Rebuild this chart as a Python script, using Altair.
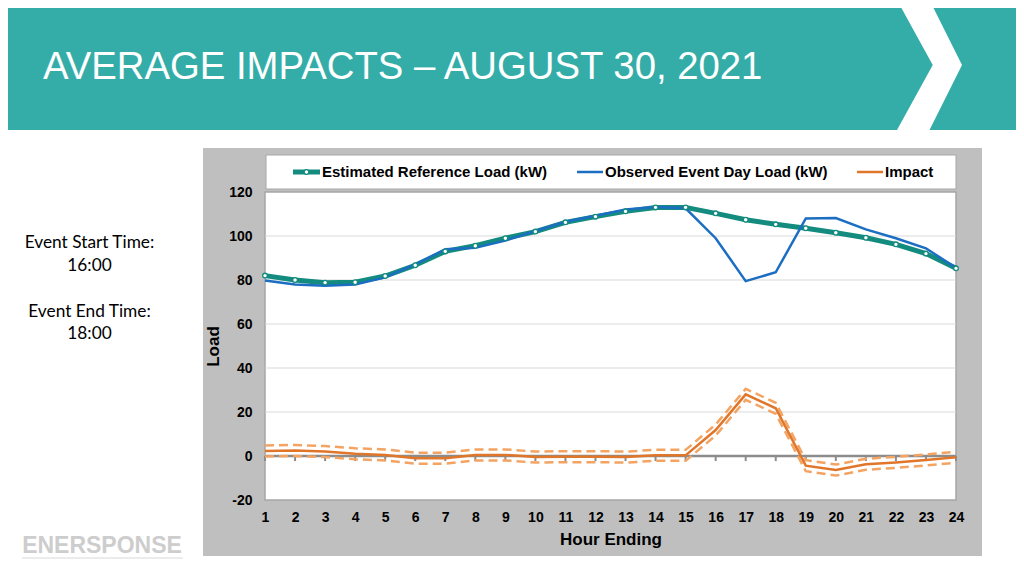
import altair as alt
import pandas as pd

# ---------------- data ----------------
hours = list(range(1, 25))
estimated = [82.0, 80.0, 78.8, 79.0, 81.8, 86.7, 93.0, 95.6, 99.0, 102.0, 106.2, 108.8,
             111.2, 113.0, 113.0, 110.3, 107.4, 105.3, 103.5, 101.5, 99.2, 96.2, 92.0, 85.3]
observed = [79.8, 78.0, 77.4, 78.0, 81.2, 87.1, 94.0, 94.7, 97.9, 102.3, 106.5, 109.2,
            112.0, 113.2, 112.6, 99.0, 79.5, 83.5, 108.0, 108.2, 103.0, 99.0, 94.4, 85.5]
impact = [2.3, 2.5, 2.0, 1.0, 0.5, -1.0, -1.0, 0.5, 0.5, -0.5, -0.3, -0.3,
          -0.5, 0.3, 0.3, 11.8, 28.0, 21.7, -4.4, -6.4, -3.8, -2.9, -1.8, -0.6]
impact_upper = [4.8, 5.0, 4.5, 3.5, 3.0, 1.5, 1.5, 3.0, 3.0, 2.0, 2.2, 2.2,
                2.0, 2.8, 2.8, 14.3, 30.5, 24.2, -1.9, -3.9, -1.3, -0.4, 0.7, 1.9]
impact_lower = [-0.2, 0.0, -0.5, -1.5, -2.0, -3.5, -3.5, -2.0, -2.0, -3.0, -2.8, -2.8,
                -3.0, -2.2, -2.2, 9.3, 25.5, 19.2, -6.9, -8.9, -6.3, -5.4, -4.3, -3.1]
y_ticks = [-20, 0, 20, 40, 60, 80, 100, 120]
grid_values = [20, 40, 60, 80, 100]

series_names = ["Estimated Reference Load (kW)", "Observed Event Day Load (kW)", "Impact"]
title_text = "AVERAGE IMPACTS \u2013 AUGUST 30, 2021"
side_texts = ["Event Start Time:", "16:00", "Event End Time:", "18:00"]

df = pd.DataFrame({"hour": hours, "est": estimated, "obs": observed, "imp": impact,
                   "up": impact_upper, "lo": impact_lower})
grid_df = pd.DataFrame({"g": grid_values})
one = pd.DataFrame({"a": [0]})

# ---------------- styles ----------------
TEAL_HEADER = "#34ADA9"
TEAL = "#138B7E"
BLUE = "#1B6EC2"
ORANGE = "#E0762A"
ORANGE_LIGHT = "#F4A462"
GREY_BOX = "#BFBFBF"
FONT = "Liberation Sans"

W, H = 691, 308

xscale = alt.Scale(domain=[1, 24], nice=False, zero=False)
yscale = alt.Scale(domain=[-20, 120], nice=False, zero=False)
axis_style = dict(grid=False, domain=False, ticks=False, zindex=2,
                  labelFont=FONT, labelFontSize=14, labelFontWeight="bold", labelColor="black",
                  titleFont=FONT, titleFontSize=17, titleFontWeight="bold", titleColor="black",
                  labelFlush=False, labelOverlap=False)
xaxis = alt.Axis(values=hours, title="Hour Ending", labelPadding=10, titlePadding=7, **axis_style)
yaxis = alt.Axis(values=y_ticks, title="Load", labelPadding=13, titlePadding=6,
                 labelExpr="'' + datum.value", **axis_style)


def X(field):
    return alt.X(field, type="quantitative", scale=xscale, axis=xaxis)


def Y(field):
    return alt.Y(field, type="quantitative", scale=yscale, axis=yaxis)


base = alt.Chart(df)

# ---------------- decorations ----------------
header = alt.Chart(one).mark_rect(color=TEAL_HEADER).encode(
    x=alt.value(-270), x2=alt.value(765), y=alt.value(-200), y2=alt.value(-62))

chevron = alt.Chart(one).mark_point(
    shape="M-0.5,-1L0,-1L0.5,0L0,1L-0.5,1L0.05,0Z", size=16900,
    filled=True, fill="white", strokeWidth=0, opacity=1).encode(
    x=alt.value(664.5), y=alt.value(-127))

title = alt.Chart(one).mark_text(
    text=title_text, align="left", baseline="alphabetic", font=FONT,
    fontSize=38.3, color="white").encode(x=alt.value(-222), y=alt.value(-113))

side_layers = []
for txt, yb in zip(side_texts, [55.7, 79, 124.7, 147.3]):
    side_layers.append(alt.Chart(one).mark_text(
        text=txt, align="center", baseline="alphabetic", font="Lato",
        fontSize=17.3, color="black").encode(x=alt.value(-175.5), y=alt.value(yb)))

logo = alt.Chart(one).mark_text(
    text="ENERSPONSE", align="center", baseline="alphabetic", font=FONT,
    fontWeight="bold", fontSize=23, color="#CDCDCD").encode(
    x=alt.value(-163), y=alt.value(361))
logo_line = alt.Chart(one).mark_rule(color="#D8D8D8", strokeWidth=1).encode(
    x=alt.value(-243), x2=alt.value(-82), y=alt.value(366))

grey_box = alt.Chart(one).mark_rect(color=GREY_BOX).encode(
    x=alt.value(-62), x2=alt.value(717), y=alt.value(-44), y2=alt.value(364))

legend_box = alt.Chart(one).mark_rect(fill="white", stroke="#A6A6A6", strokeWidth=1).encode(
    x=alt.value(1), x2=alt.value(691), y=alt.value(-37), y2=alt.value(-3))

plot_box = alt.Chart(one).mark_rect(fill="white", stroke="#A6A6A6", strokeWidth=1.5).encode(
    x=alt.value(0), x2=alt.value(W), y=alt.value(0), y2=alt.value(H))

# ---------------- data layers ----------------
grid = alt.Chart(grid_df).mark_rule(color="#D9D9D9", strokeWidth=1).encode(y=Y("g"))

zero_line = alt.Chart(one).mark_rule(color="#8C8C8C", strokeWidth=2.5).encode(
    x=alt.X(datum=1, type="quantitative", scale=xscale, axis=xaxis),
    x2=alt.X2(datum=24),
    y=alt.Y(datum=0, type="quantitative", scale=yscale, axis=yaxis))

zero_ticks = base.mark_rule(color="#8C8C8C", strokeWidth=2).encode(
    x=X("hour"),
    y=alt.Y(datum=0, type="quantitative", scale=yscale, axis=yaxis),
    y2=alt.Y2(datum=-2.3))

upper_line = base.mark_line(color=ORANGE_LIGHT, strokeWidth=2.5, strokeDash=[9, 5]).encode(
    x=X("hour"), y=Y("up"))
lower_line = base.mark_line(color=ORANGE_LIGHT, strokeWidth=2.5, strokeDash=[9, 5]).encode(
    x=X("hour"), y=Y("lo"))
impact_line = base.mark_line(color=ORANGE, strokeWidth=2.5).encode(x=X("hour"), y=Y("imp"))

est_line = base.mark_line(color=TEAL, strokeWidth=5).encode(x=X("hour"), y=Y("est"))
obs_line = base.mark_line(color=BLUE, strokeWidth=2.5).encode(x=X("hour"), y=Y("obs"))
est_points = base.mark_point(filled=True, fill="white", stroke=TEAL, strokeWidth=1.3,
                             size=22, opacity=1).encode(x=X("hour"), y=Y("est"))

# ---------------- manual legend ----------------
legend_layers = []
for (x0, x1, tx, col, sw), name in zip(
        [(28, 55, 57, TEAL, 5), (312, 338, 340, BLUE, 2.5), (592, 618, 620, ORANGE, 2.5)],
        series_names):
    legend_layers.append(alt.Chart(one).mark_rule(color=col, strokeWidth=sw).encode(
        x=alt.value(x0), x2=alt.value(x1), y=alt.value(-20)))
    legend_layers.append(alt.Chart(one).mark_text(
        text=name, align="left", baseline="middle", font=FONT, fontWeight="bold",
        fontSize=15, color="black").encode(x=alt.value(tx), y=alt.value(-20)))
legend_layers.append(alt.Chart(one).mark_point(
    filled=True, fill="white", stroke=TEAL, strokeWidth=1.3, size=22, opacity=1).encode(
    x=alt.value(41.5), y=alt.value(-20)))

chart = alt.layer(
    header, chevron, title, *side_layers, logo, logo_line, grey_box, legend_box, plot_box,
    grid, zero_line, zero_ticks, upper_line, lower_line, impact_line,
    est_line, obs_line, est_points, *legend_layers
).properties(
    width=W, height=H,
    autosize=alt.AutoSizeParams(type="none"),
    padding={"left": 257, "top": 184, "right": 60, "bottom": 68},
    background="white",
).configure_view(stroke=None)

chart.save("out.html", embed_options={"renderer": "svg", "actions": False})
